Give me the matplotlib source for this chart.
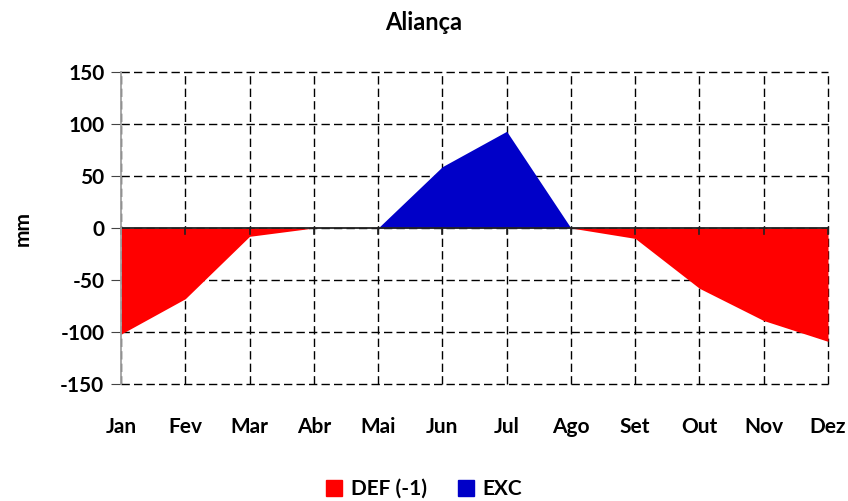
import numpy as np
import matplotlib.pyplot as plt
from matplotlib.patches import Patch

plt.rcParams['font.family'] = ['Lato', 'DejaVu Sans']
plt.rcParams['axes.unicode_minus'] = False

# monthly water balance values (mm)
months = ['Jan', 'Fev', 'Mar', 'Abr', 'Mai', 'Jun', 'Jul', 'Ago', 'Set', 'Out', 'Nov', 'Dez']
deficit = [-102, -68, -8, 0, 0, 0, 0, 0, -10, -58, -89, -109]
excess = [0, 0, 0, 0, 0, 59, 93, 0, 0, 0, 0, 0]

red = '#ff0000'
blue = '#0000c8'

fig = plt.figure(figsize=(8.48, 5.01), dpi=100)
ax = fig.add_axes([121/848, 1 - 384/501, (828 - 121)/848, (384 - 72)/501])

x = np.arange(len(months))
ax.fill_between(x, 0, deficit, color=red, linewidth=0, zorder=2)
ax.fill_between(x, 0, excess, color=blue, linewidth=0, zorder=2)

ax.set_xlim(0, len(months) - 1)
ax.set_ylim(-150, 150)
ax.set_yticks(np.arange(-150, 151, 50))
ax.set_xticks(x)
ax.set_xticklabels(months)

ax.grid(True, color='black', linestyle=(0, (6, 3)), linewidth=1.0, zorder=1)
for gl in ax.get_xgridlines() + ax.get_ygridlines():
    gl.set_clip_on(False)
ax.set_axisbelow(True)
ax.axhline(0, color='#222222', linewidth=1.3, zorder=3)

for side in ['top', 'right', 'bottom']:
    ax.spines[side].set_visible(False)
ax.spines['left'].set_color('#a0a0a0')
ax.spines['left'].set_linewidth(1.3)
ax.spines['left'].set_zorder(4)

ax.tick_params(axis='y', length=7, color='#444444', labelsize=15, pad=5)
ax.tick_params(axis='x', length=0, labelsize=15, pad=24)
for lab in ax.get_xticklabels() + ax.get_yticklabels():
    lab.set_fontweight('bold')

# small tick marks hanging below the zero line
for xi in x:
    ax.plot([xi, xi], [0, -6], color='#222222', linewidth=1.2, zorder=3, clip_on=False)

ax.set_ylabel('mm', fontsize=15, fontweight='bold', labelpad=20)
fig.text(0.5, 1 - 23/501, 'Aliança', ha='center', va='center', fontsize=17, fontweight='bold')

handles = [Patch(color=red, label='DEF (-1)'), Patch(color=blue, label='EXC')]
fig.legend(handles=handles, loc='center', bbox_to_anchor=(0.5, 1 - 489/501), ncol=2,
           frameon=False, prop={'size': 15, 'weight': 'bold'},
           handlelength=0.8, handleheight=0.8, handletextpad=0.4, columnspacing=1.5)

fig.savefig('out.png', dpi=100)
